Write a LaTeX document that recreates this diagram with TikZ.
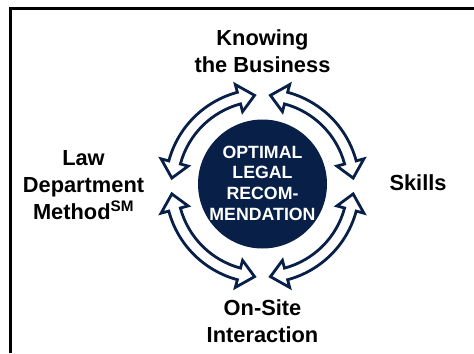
\documentclass[tikz,border=0pt]{standalone}
\usepackage{fontspec}
\setmainfont{Liberation Sans}
\definecolor{navy}{RGB}{8,32,72}
\newcommand\cycarrow[2]{%
  \draw[cyc, shift={(ring)}] (#1:91) -- ({#1+10}:105) -- ({#1+10}:97)
    arc[start angle={#1+10}, end angle={#2-10}, radius=97]
    -- ({#2-10}:105) -- (#2:91) -- ({#2-10}:77) -- ({#2-10}:85)
    arc[start angle={#2-10}, end angle={#1+10}, radius=85]
    -- ({#1+10}:77) -- cycle;}
\begin{document}
\begin{tikzpicture}[x=1bp,y=1bp,
  lbl/.style={font=\fontsize{21.9}{26.8}\selectfont\bfseries, align=center, anchor=base, inner sep=0},
  ctr/.style={font=\fontsize{17.8}{20.6}\selectfont\bfseries, align=center, text=white, anchor=base, inner sep=0},
  cyc/.style={draw=navy, fill=white, line width=2.8bp, line join=miter},
  frame/.style={line width=3bp, black}]
\useasboundingbox (0,0) rectangle (474,353);
\coordinate (fb) at (10.3,0);
\coordinate (fc) at (10.3,344.7);
\coordinate (fr) at (474,344.7);
\draw[frame] (fb) -- (fc) -- (fr);
\coordinate (ring) at (262.5,167);
\node[circle, fill=navy, minimum size=129bp, inner sep=0] (core) at (262.5,169) {};
\node[ctr] (coretext) at (262.5,133) {OPTIMAL\\LEGAL\\RECOM-\\MENDATION};
\cycarrow{5}{85}
\cycarrow{95}{175}
\cycarrow{185}{265}
\cycarrow{275}{355}
\node[lbl] (know) at (262.5,281) {Knowing\\the Business};
\node[lbl] (skills) at (418,162.3) {Skills};
\node[lbl] (law) at (83.5,134) {Law\\Department\\Method\textsuperscript{SM}};
\node[lbl] (onsite) at (262.5,11) {On-Site\\Interaction};
\end{tikzpicture}
\end{document}
